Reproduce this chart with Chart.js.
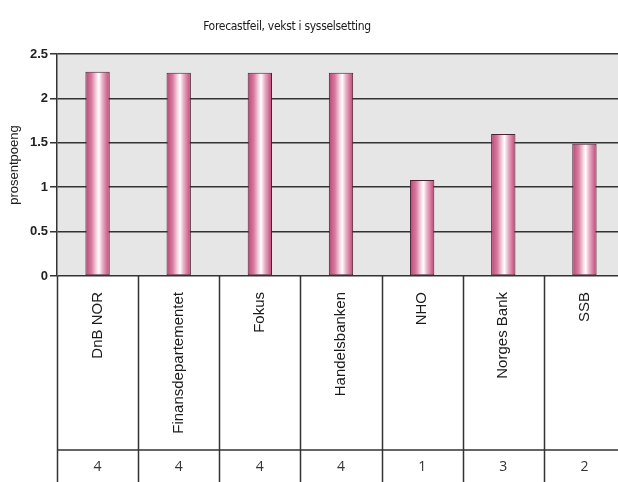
<!DOCTYPE html>
<html>
<head>
<meta charset="utf-8">
<script src="https://cdn.jsdelivr.net/npm/chart.js@4/dist/chart.umd.min.js"></script>
<style>
  html, body { margin: 0; padding: 0; overflow: hidden; background: #ffffff; }
  #wrap { width: 625px; height: 482px; position: relative; }
</style>
</head>
<body>
<div id="wrap"><canvas id="c"></canvas></div>
<script>
const chartTitle = 'Forecastfeil, vekst i sysselsetting';
const yAxisTitle = 'prosentpoeng';
const categories = ['DnB NOR', 'Finansdepartementet', 'Fokus', 'Handelsbanken', 'NHO', 'Norges Bank', 'SSB'];
const forecastErrors = [2.30, 2.29, 2.29, 2.29, 1.08, 1.60, 1.49];
const forecastCounts = [4, 4, 4, 4, 1, 3, 2];
const yMin = 0, yMax = 2.5, yStep = 0.5;

const BAR_FRACTION = 0.3;
const TABLE_LINE_Y = 450;
const NUMBER_Y = 467;

function barGradient(ctx) {
  const chart = ctx.chart;
  const xs = chart.scales && chart.scales.x;
  if (!chart.chartArea || !xs || ctx.dataIndex === undefined) return '#c85a85';
  const cx = xs.getPixelForValue(ctx.dataIndex);
  const colW = (chart.chartArea.right - chart.chartArea.left) / categories.length;
  const w = colW * BAR_FRACTION;
  const g = chart.ctx.createLinearGradient(cx - w / 2, 0, cx + w / 2, 0);
  g.addColorStop(0.00, '#b84673');
  g.addColorStop(0.25, '#d77ba0');
  g.addColorStop(0.45, '#f6d6e2');
  g.addColorStop(0.55, '#ffffff');
  g.addColorStop(0.70, '#eab0c6');
  g.addColorStop(0.90, '#cc6690');
  g.addColorStop(1.00, '#b84673');
  return g;
}

const tablePlugin = {
  id: 'tablePlugin',
  beforeDraw(chart) {
    const { ctx, chartArea } = chart;
    ctx.save();
    ctx.fillStyle = '#e6e6e6';
    ctx.fillRect(chartArea.left, chartArea.top, chartArea.right - chartArea.left, chartArea.bottom - chartArea.top);
    ctx.restore();
  },
  afterDraw(chart) {
    const { ctx, chartArea } = chart;
    const xs = chart.scales.x;
    const n = categories.length;
    const colW = (chartArea.right - chartArea.left) / n;
    ctx.save();
    ctx.strokeStyle = '#333333';
    ctx.lineWidth = 1.5;
    ctx.beginPath();
    for (let i = 0; i <= n; i++) {
      const x = Math.round(chartArea.left + i * colW) + 0.5;
      ctx.moveTo(x, chartArea.bottom);
      ctx.lineTo(x, chart.height);
    }
    ctx.moveTo(chartArea.left, TABLE_LINE_Y);
    ctx.lineTo(chartArea.right, TABLE_LINE_Y);
    ctx.stroke();
    ctx.fillStyle = '#333333';
    ctx.font = "14px 'Open Sans', 'Liberation Sans', sans-serif";
    ctx.textAlign = 'center';
    ctx.textBaseline = 'middle';
    forecastCounts.forEach((v, i) => {
      ctx.fillText(String(v), xs.getPixelForValue(i), NUMBER_Y);
    });
    ctx.font = "12px 'Liberation Sans Narrow', 'DejaVu Sans Condensed', 'Roboto', sans-serif";
    if ('letterSpacing' in ctx) ctx.letterSpacing = '-0.3px';
    ctx.fillStyle = '#1a1a1a';
    ctx.fillText(chartTitle, 287, 27);
    ctx.restore();
  }
};

new Chart(document.getElementById('c'), {
  type: 'bar',
  data: {
    labels: categories,
    datasets: [{
      data: forecastErrors,
      backgroundColor: barGradient,
      borderColor: '#4a2232',
      borderWidth: 1,
      borderSkipped: false,
      categoryPercentage: 1.0,
      barPercentage: BAR_FRACTION
    }]
  },
  options: {
    responsive: true,
    maintainAspectRatio: false,
    animation: false,
    layout: { padding: { top: 54, right: 0, bottom: 0, left: 0 } },
    plugins: {
      legend: { display: false },
      title: { display: false },
      tooltip: { enabled: false }
    },
    scales: {
      x: {
        grid: { display: false },
        border: { display: false },
        ticks: {
          minRotation: 90,
          maxRotation: 90,
          autoSkip: false,
          padding: 8,
          color: '#1a1a1a',
          font: { family: "'Liberation Sans', Arial, sans-serif", size: 15 }
        },
        afterFit(scale) { scale.height = 482 - 276; }
      },
      y: {
        min: yMin,
        max: yMax,
        ticks: {
          stepSize: yStep,
          padding: 2,
          color: '#222222',
          font: { family: "'Liberation Sans', Arial, sans-serif", size: 13, weight: 'bold' },
          callback: (v) => String(v)
        },
        grid: { color: '#333333', lineWidth: 1.5, tickLength: 7, drawTicks: true },
        border: { display: true, color: '#333333', width: 1.5 },
        title: {
          display: true,
          text: yAxisTitle,
          color: '#1a1a1a',
          font: { family: "'Liberation Sans', Arial, sans-serif", size: 13 },
          padding: { top: 7, bottom: 0 }
        },
        afterFit(scale) { scale.width = 57; }
      }
    }
  },
  plugins: [tablePlugin]
});
</script>
</body>
</html>
